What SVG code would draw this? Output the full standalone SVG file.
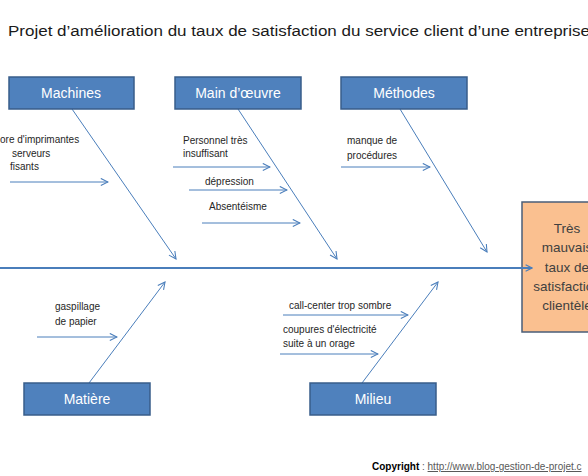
<svg xmlns="http://www.w3.org/2000/svg" width="588" height="476" viewBox="0 0 588 476">
<style>
.box{fill:#4F81BD;stroke:#385D8A;stroke-width:1.5}
.lbl{font-family:"Liberation Sans",Arial,sans-serif;font-size:14px;fill:#FFFFFF;text-anchor:middle}
.sm{font-family:"Liberation Sans",Arial,sans-serif;font-size:10px;fill:#262626}
.ln{stroke:#4A7EBB;stroke-width:1;fill:none;marker-end:url(#ah)}
.eff{font-family:"Liberation Sans",Arial,sans-serif;font-size:13.5px;fill:#404040;text-anchor:middle}
</style>
<defs>
<marker id="ah" viewBox="0 0 10 10" refX="9" refY="5" markerWidth="9" markerHeight="9" markerUnits="userSpaceOnUse" orient="auto">
<path d="M1,1 L9,5 L1,9" fill="none" stroke="#4A7EBB" stroke-width="1.2"/>
</marker>
<marker id="ah2" viewBox="0 0 10 10" refX="9" refY="5" markerWidth="8" markerHeight="8" markerUnits="userSpaceOnUse" orient="auto">
<path d="M1,1 L9,5 L1,9" fill="none" stroke="#4A7EBB" stroke-width="1.5"/>
</marker>
</defs>
<rect width="588" height="476" fill="#FFFFFF"/>
<text x="8" y="36" font-family="'Liberation Sans',Arial,sans-serif" font-size="15.5" fill="#1a1a1a" textLength="582" lengthAdjust="spacingAndGlyphs">Projet d’amélioration du taux de satisfaction du service client d’une entreprise</text>

<g id="effect">
<rect x="522" y="202" width="90" height="130" fill="#FAC090" stroke="#4A5E78" stroke-width="1.5"/>
<text class="eff" x="567" y="233">Très</text>
<text class="eff" x="567" y="252">mauvais</text>
<text class="eff" x="567" y="272">taux de</text>
<text class="eff" x="567" y="291">satisfaction</text>
<text class="eff" x="567" y="310">clientèle</text>
</g>

<g id="connectors">
<line x1="0" y1="268" x2="532" y2="268" stroke="#4A7EBB" stroke-width="2" marker-end="url(#ah2)"/>
<line class="ln" x1="72" y1="109" x2="176" y2="259"/>
<line class="ln" x1="238" y1="109" x2="337" y2="259"/>
<line class="ln" x1="400" y1="109" x2="487" y2="252"/>
<line class="ln" x1="89" y1="383" x2="165" y2="282"/>
<line class="ln" x1="362" y1="383" x2="438" y2="282"/>
<line class="ln" x1="10" y1="182" x2="108" y2="182"/>
<line class="ln" x1="173" y1="167" x2="270" y2="167"/>
<line class="ln" x1="189" y1="190" x2="287" y2="190"/>
<line class="ln" x1="202" y1="223" x2="300" y2="223"/>
<line class="ln" x1="341" y1="167" x2="430" y2="167"/>
<line class="ln" x1="37" y1="337" x2="117" y2="337"/>
<line class="ln" x1="283" y1="315" x2="408" y2="315"/>
<line class="ln" x1="280" y1="354" x2="378" y2="354"/>
</g>

<g id="machines">
<rect class="box" x="9" y="77" width="125" height="32"/>
<text class="lbl" x="71" y="98">Machines</text>
<text class="sm" x="0" y="143">ore d'imprimantes</text>
<text class="sm" x="12" y="157">serveurs</text>
<text class="sm" x="10" y="170">fisants</text>
</g>

<g id="main-oeuvre">
<rect class="box" x="175" y="77" width="126" height="32"/>
<text class="lbl" x="238" y="98">Main d’œuvre</text>
<text class="sm" x="183" y="144">Personnel très</text>
<text class="sm" x="183" y="157">insuffisant</text>
<text class="sm" x="205" y="185">dépression</text>
<text class="sm" x="209" y="210">Absentéisme</text>
</g>

<g id="methodes">
<rect class="box" x="341" y="77" width="126" height="32"/>
<text class="lbl" x="404" y="98">Méthodes</text>
<text class="sm" x="347" y="144">manque de</text>
<text class="sm" x="347" y="159">procédures</text>
</g>

<g id="matiere">
<rect class="box" x="24" y="383" width="126" height="32"/>
<text class="lbl" x="87" y="404">Matière</text>
<text class="sm" x="55" y="310">gaspillage</text>
<text class="sm" x="55" y="325">de papier</text>
</g>

<g id="milieu">
<rect class="box" x="310" y="383" width="126" height="32"/>
<text class="lbl" x="373" y="404">Milieu</text>
<text class="sm" x="289" y="309">call-center trop sombre</text>
<text class="sm" x="283" y="333">coupures d'électricité</text>
<text class="sm" x="283" y="347">suite à un orage</text>
</g>

<text x="372" y="470" font-family="'Liberation Sans',Arial,sans-serif" font-size="10" fill="#000000"><tspan font-weight="bold">Copyright</tspan><tspan fill="#595959"> : </tspan><tspan fill="#595959" text-decoration="underline">http://www.blog-gestion-de-projet.c</tspan></text>
</svg>
